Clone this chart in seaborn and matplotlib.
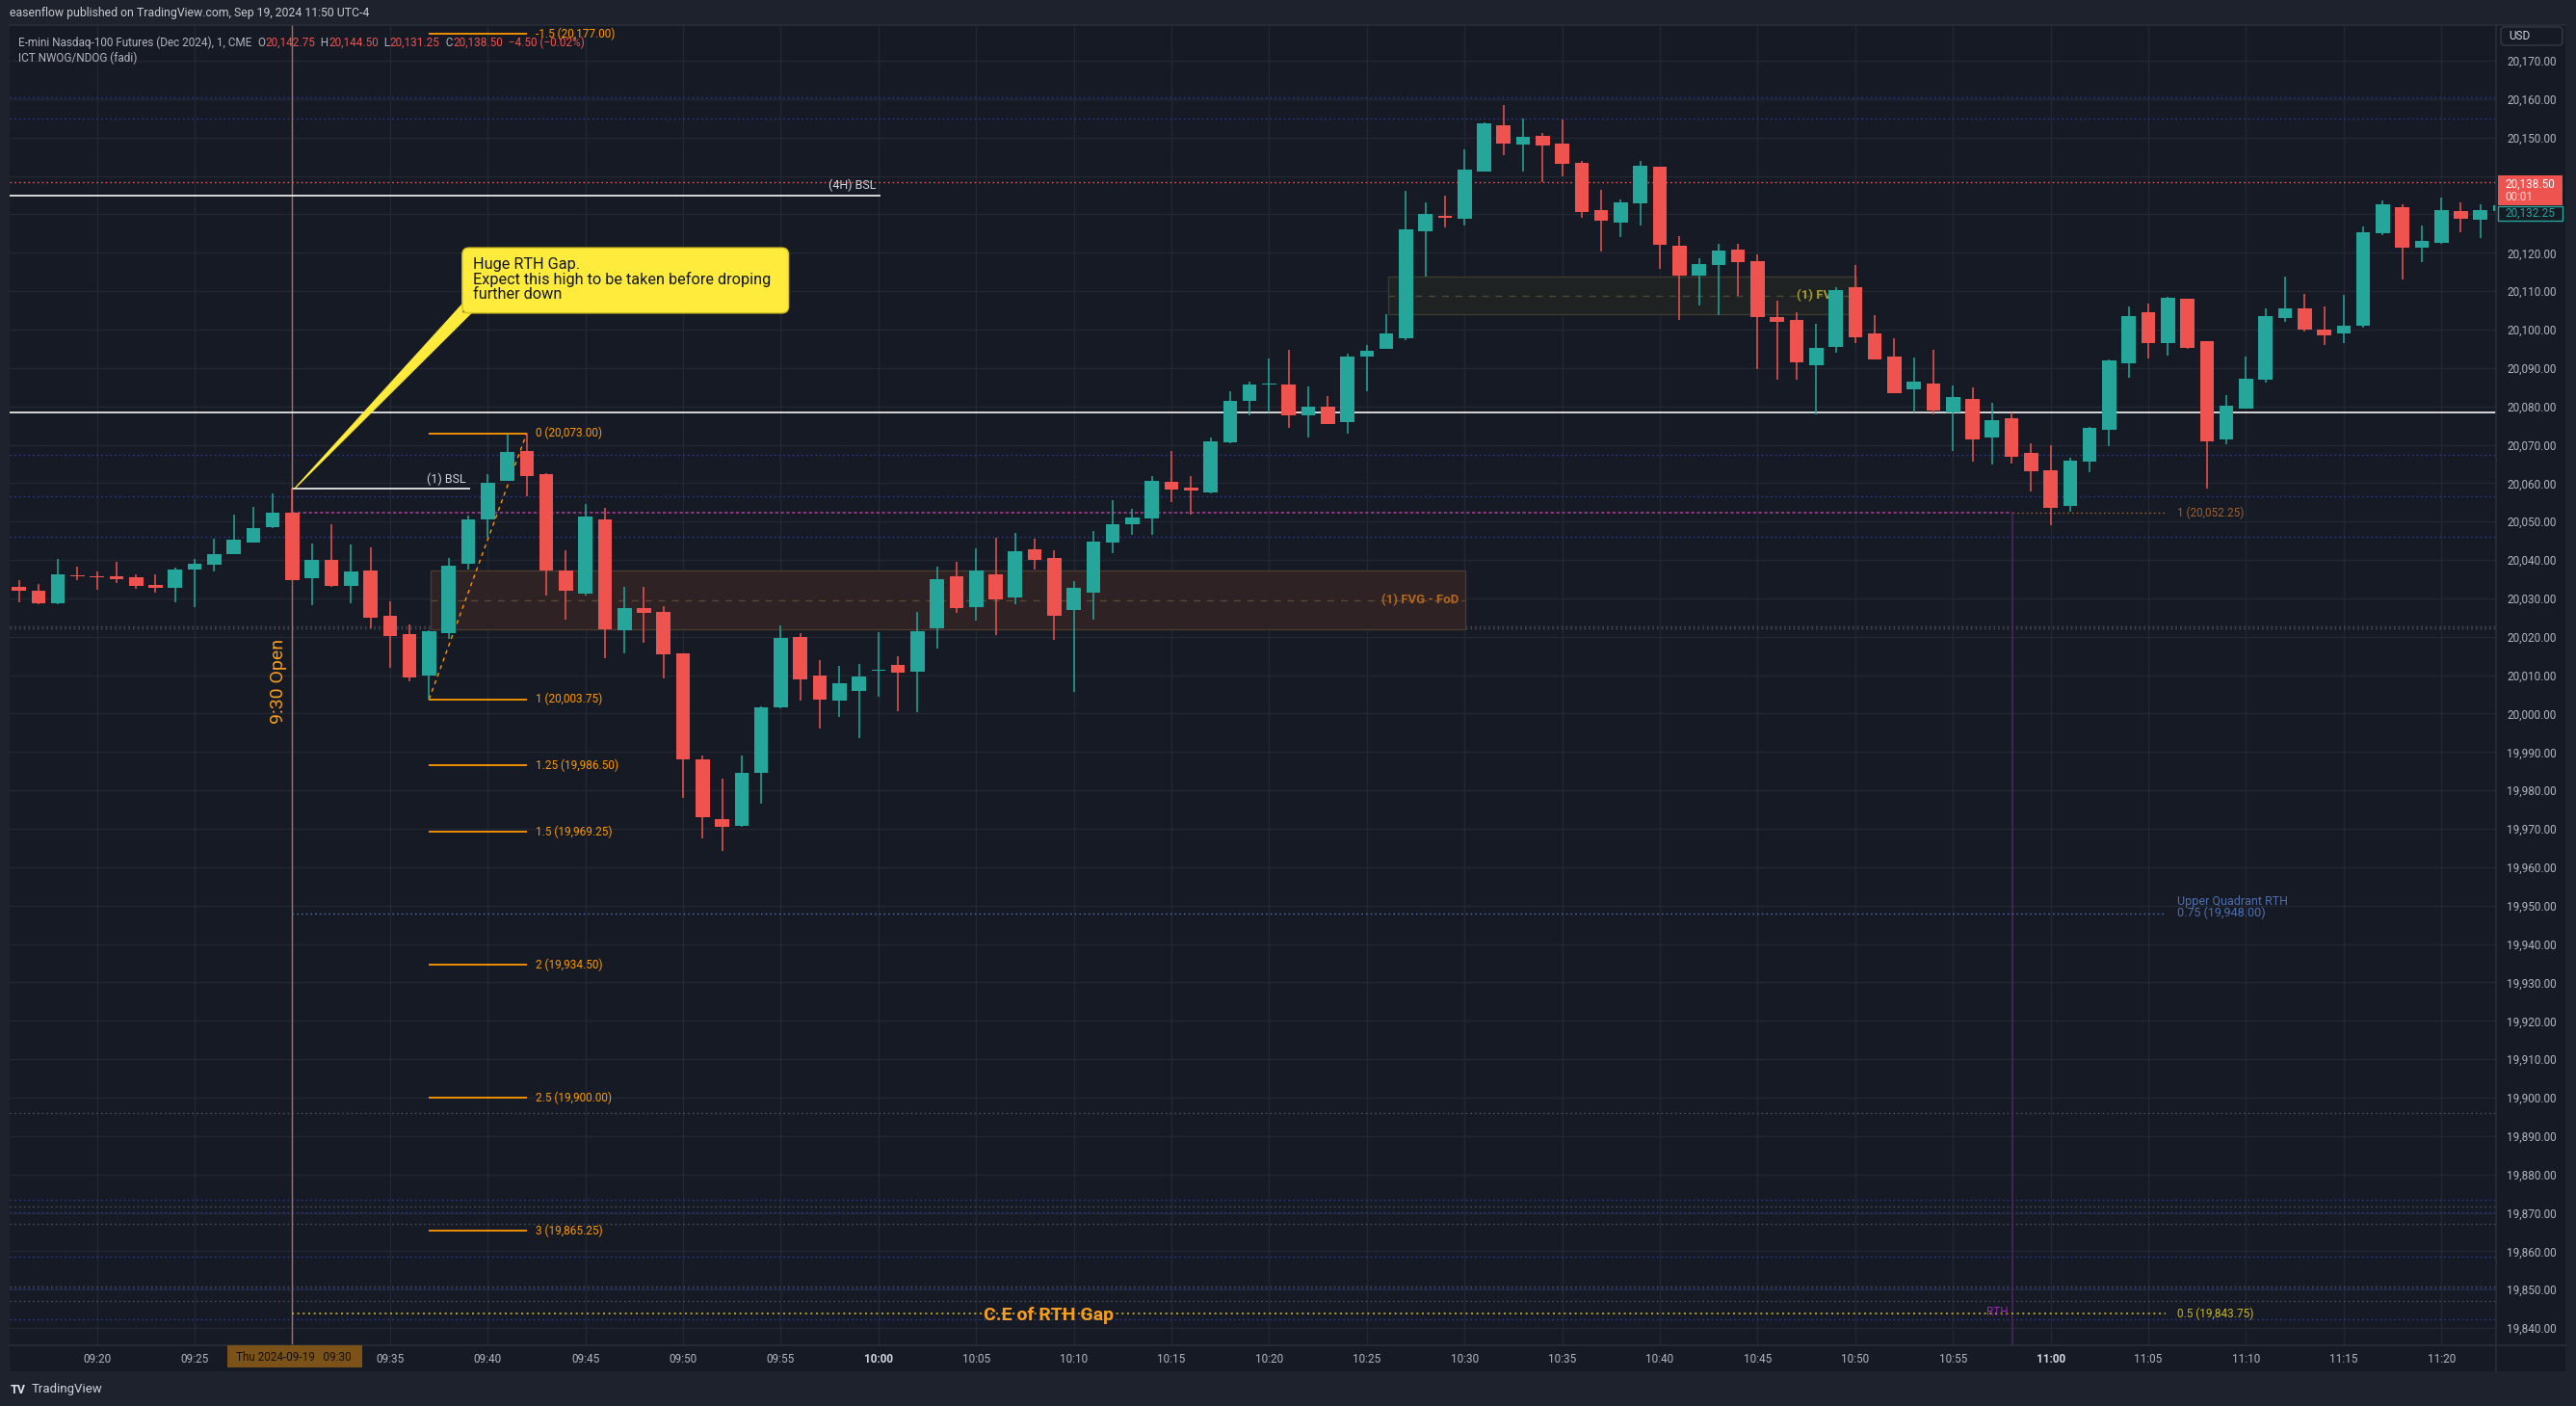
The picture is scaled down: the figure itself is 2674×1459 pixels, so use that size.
import numpy as np
import pandas as pd
import seaborn as sns
import matplotlib
matplotlib.use("Agg")
import matplotlib.pyplot as plt
from matplotlib.patches import Rectangle, FancyBboxPatch, Polygon
from matplotlib.lines import Line2D
from matplotlib.transforms import IdentityTransform

# ---------------- data ----------------
minutes = list(range(16, 144))  # minutes after 09:00, 1-minute bars 09:16 .. 11:23
opens = [20033.0, 20032.0, 20028.75, 20036.0, 20035.75, 20035.75, 20035.5, 20033.5, 20032.75, 20037.5,
         20038.75, 20041.5, 20044.5, 20048.5, 20052.25, 20035.25, 20040.0, 20033.25, 20037.25, 20025.5,
         20020.75, 20010.0, 20021.0, 20039.0, 20050.5, 20060.5, 20068.5, 20062.25, 20037.25, 20031.25,
         20050.5, 20021.75, 20027.5, 20026.5, 20015.75, 19988.0, 19972.5, 19970.75, 19984.5, 20001.75,
         20020.0, 20010.0, 20003.5, 20006.0, 20011.25, 20012.75, 20011.0, 20022.25, 20035.75, 20027.75,
         20036.25, 20030.25, 20042.75, 20040.5, 20027.0, 20031.5, 20044.5, 20049.25, 20050.75, 20060.25,
         20058.75, 20057.5, 20070.75, 20081.5, 20085.75, 20085.75, 20077.75, 20080.0, 20076.0, 20093.0,
         20095.0, 20097.75, 20125.5, 20129.5, 20128.75, 20141.25, 20153.25, 20148.25, 20150.5, 20148.5,
         20143.5, 20131.0, 20127.75, 20132.75, 20142.5, 20121.75, 20114.0, 20116.75, 20120.75, 20117.75,
         20103.25, 20102.5, 20090.75, 20095.5, 20111.0, 20099.0, 20093.0, 20084.5, 20086.0, 20078.5,
         20082.0, 20072.0, 20077.0, 20068.0, 20063.25, 20054.0, 20065.5, 20074.0, 20091.25, 20104.5,
         20096.5, 20108.0, 20097.0, 20071.5, 20079.5, 20087.0, 20103.0, 20105.5, 20100.0, 20099.0,
         20101.0, 20125.0, 20131.75, 20121.25, 20122.5, 20130.75, 20128.5, 20130.75]
highs = [20034.75, 20033.75, 20040.25, 20038.25, 20037.0, 20039.5, 20036.25, 20036.25, 20038.0, 20040.25,
         20045.5, 20051.75, 20053.75, 20057.25, 20058.5, 20044.25, 20049.25, 20044.0, 20043.25, 20029.25,
         20023.25, 20021.75, 20040.5, 20051.5, 20062.25, 20072.75, 20073.0, 20062.5, 20042.5, 20054.5,
         20053.5, 20033.0, 20033.0, 20028.0, 20015.75, 19989.0, 19983.0, 19989.0, 20002.0, 20023.0,
         20021.0, 20014.0, 20012.5, 20013.0, 20021.25, 20015.0, 20026.5, 20038.25, 20039.5, 20043.0,
         20045.75, 20047.0, 20045.5, 20042.5, 20034.5, 20047.5, 20055.5, 20053.25, 20061.75, 20068.5,
         20061.75, 20072.0, 20084.0, 20086.5, 20092.5, 20094.75, 20085.25, 20082.75, 20093.75, 20096.0,
         20104.0, 20136.25, 20133.0, 20135.0, 20147.0, 20154.0, 20158.5, 20155.0, 20151.25, 20154.75,
         20144.0, 20136.5, 20134.0, 20144.0, 20142.5, 20124.25, 20118.5, 20122.25, 20122.25, 20119.5,
         20107.5, 20104.5, 20101.5, 20111.0, 20116.75, 20103.75, 20097.75, 20092.75, 20094.75, 20085.5,
         20085.0, 20081.0, 20078.5, 20070.5, 20070.0, 20066.5, 20074.75, 20092.25, 20106.0, 20106.75,
         20108.5, 20108.0, 20097.0, 20083.0, 20093.0, 20105.5, 20113.75, 20109.25, 20106.0, 20109.0,
         20126.75, 20133.75, 20132.5, 20127.0, 20134.5, 20133.0, 20132.5, 20133.0]
lows = [20029.0, 20028.5, 20028.5, 20034.75, 20032.25, 20034.0, 20032.5, 20031.5, 20029.0, 20027.75,
        20037.0, 20041.5, 20044.5, 20048.25, 20034.75, 20028.25, 20033.0, 20028.75, 20022.25, 20012.0,
        20008.5, 20003.75, 20019.5, 20037.5, 20045.75, 20060.5, 20056.5, 20030.75, 20024.5, 20030.75,
        20014.5, 20015.75, 20018.5, 20009.25, 19978.0, 19967.5, 19964.25, 19970.5, 19976.5, 20001.5,
        20003.5, 19996.0, 19999.0, 19993.5, 20004.5, 20000.5, 20000.25, 20017.0, 20026.25, 20024.25,
        20020.5, 20028.5, 20037.5, 20019.25, 20005.75, 20024.5, 20041.75, 20046.5, 20046.5, 20055.0,
        20051.75, 20057.25, 20070.5, 20077.75, 20078.5, 20074.5, 20072.0, 20075.5, 20073.0, 20084.0,
        20095.0, 20097.25, 20113.75, 20126.5, 20127.0, 20141.25, 20145.5, 20141.25, 20138.5, 20140.0,
        20129.0, 20120.25, 20124.0, 20127.0, 20115.75, 20102.5, 20106.25, 20103.75, 20108.75, 20089.75,
        20087.0, 20087.0, 20078.0, 20094.0, 20096.5, 20092.25, 20083.5, 20078.5, 20078.0, 20068.5,
        20065.5, 20064.75, 20065.0, 20057.75, 20049.0, 20052.5, 20062.75, 20069.75, 20087.5, 20092.5,
        20093.25, 20095.0, 20058.5, 20070.25, 20079.5, 20086.25, 20102.0, 20099.5, 20096.0, 20096.5,
        20100.5, 20124.5, 20113.0, 20117.5, 20122.25, 20125.25, 20123.75, 20130.25]
closes = [20032.0, 20028.75, 20036.25, 20035.75, 20035.5, 20035.0, 20033.25, 20032.75, 20037.5, 20039.0,
          20041.5, 20045.25, 20048.25, 20052.25, 20034.75, 20040.0, 20033.25, 20037.0, 20025.0, 20020.25,
          20009.5, 20021.5, 20038.5, 20050.5, 20060.0, 20068.25, 20061.75, 20037.25, 20032.0, 20051.25,
          20022.0, 20027.5, 20026.25, 20015.5, 19988.0, 19973.0, 19970.5, 19984.5, 20001.75, 20019.75,
          20009.0, 20003.75, 20008.0, 20009.75, 20011.5, 20010.75, 20021.5, 20035.0, 20027.5, 20037.25,
          20029.75, 20042.25, 20040.0, 20025.5, 20032.75, 20044.75, 20049.25, 20051.0, 20060.5, 20058.25,
          20058.0, 20071.0, 20081.5, 20085.75, 20086.0, 20077.75, 20080.0, 20075.5, 20093.0, 20094.5,
          20099.0, 20126.0, 20130.0, 20129.25, 20141.75, 20153.75, 20148.5, 20150.25, 20148.0, 20143.25,
          20130.5, 20128.25, 20133.25, 20142.75, 20122.0, 20114.0, 20117.0, 20120.5, 20117.5, 20103.25,
          20102.0, 20091.5, 20095.25, 20110.25, 20098.0, 20092.25, 20083.5, 20086.5, 20079.0, 20082.5,
          20071.5, 20076.5, 20067.0, 20063.0, 20053.5, 20065.75, 20074.5, 20092.0, 20103.5, 20096.5,
          20108.25, 20095.25, 20071.0, 20080.25, 20087.25, 20103.5, 20105.5, 20100.0, 20098.5, 20101.0,
          20125.25, 20132.5, 20121.25, 20123.0, 20131.0, 20128.75, 20131.0, 20132.25]

fib_levels = [-1.5, 0, 1, 1.25, 1.5, 2, 2.5, 3]
fib_prices = [20177.00, 20073.00, 20003.75, 19986.50, 19969.25, 19934.50, 19900.00, 19865.25]
fib_start, fib_end = 37, 42          # 09:37 low -> 09:42 high
fib_low, fib_high = 20003.75, 20073.00

rth_open = 20052.25      # 1
rth_upper_q = 19948.00   # 0.75
rth_ce = 19843.75        # 0.5
white_level = 20078.5
bsl_4h = 20135.0
bsl_1 = 20058.5
last_price = 20138.5
ndog_blue = [20160.4, 20154.9, 20067.3, 20056.7, 20046.0, 19873.4, 19870.1, 19858.6, 19850.2, 19842.3]
ndog_gray = [20022.7, 20022.2, 19896.0, 19871.6, 19867.1, 19850.7, 19847.0]
fvg_low = dict(x0=37.1, x1=90.05, lo=20021.9, hi=20037.2)
fvg_up = dict(x0=86.07, x1=110.06, lo=20103.9, hi=20113.7)

y_ticks = list(range(19840, 20171, 10))
x_ticks = list(range(20, 141, 5))
x_tick_labels = [f"{9 + m // 60:02d}:{m % 60:02d}" for m in x_ticks]

# ---------------- style ----------------
OUTER = "#1e222d"
BG = "#161a25"
GRID = "#232733"
TXT = "#b2b5be"
UP = "#26a69a"
DN = "#ef5350"
ORANGE = "#ff9800"

sns.set_theme(style="darkgrid")
plt.rcParams["font.family"] = ["Roboto", "DejaVu Sans"]
plt.rcParams["axes.unicode_minus"] = True

W, H = 2674, 1459
fig = plt.figure(figsize=(W / 100, H / 100), dpi=100)
fig.patch.set_facecolor(OUTER)
IDT = IdentityTransform()

def P(x, y):
    """pixel (top-left origin) -> display coords"""
    return x, H - y

# chart panel background
fig.add_artist(Rectangle(P(10, 1423), 2653, 1397, transform=IDT, facecolor=BG,
                         edgecolor="none", zorder=-10))

ax = fig.add_axes([10 / W, 1 - 1396 / H, 2581 / W, 1370 / H])
ax.set_facecolor(BG)
x_lo, x_hi = 15.53, 142.8
y_lo, y_hi = 19835.5, 20179.3
ax.set_xlim(x_lo, x_hi)
ax.set_ylim(y_lo, y_hi)
for s in ax.spines.values():
    s.set_visible(False)
ax.grid(True, color=GRID, lw=1)
ax.set_xticks(x_ticks)
# 09:30 tick label sits under the crosshair date box
ax.set_xticklabels(["" if lab == "09:30" else lab for lab in x_tick_labels])
ax.set_yticks(y_ticks)
# 20,140 tick label sits under the last-price marker
ax.set_yticklabels(["" if v == 20140 else f"{v:,.2f}" for v in y_ticks])
ax.yaxis.tick_right()
ax.tick_params(axis="y", length=0, pad=8, labelsize=8.5, labelcolor=TXT)
ax.tick_params(axis="x", length=0, pad=6, labelsize=8.5, labelcolor=TXT)
for lab in ax.get_xticklabels():
    if lab.get_text() in ("10:00", "11:00"):
        lab.set_fontweight("bold")
        lab.set_color("#d1d4dc")

# ---------------- level lines ----------------
dot = (0, (1.2, 2.2))
for v in ndog_blue:
    ax.axhline(v, color="#2b3a92", lw=1, ls=dot, zorder=1)
for v in ndog_gray:
    ax.axhline(v, color="#4a4e59", lw=1, ls=dot, zorder=1)
ax.axhline(last_price, color=DN, lw=1, ls=dot, zorder=2)

# FVG boxes
ax.add_patch(Rectangle((fvg_low["x0"], fvg_low["lo"]), fvg_low["x1"] - fvg_low["x0"],
                       fvg_low["hi"] - fvg_low["lo"], facecolor="#2f2225", edgecolor="#4a3b2c",
                       lw=1, zorder=1.5))
ax.hlines((fvg_low["lo"] + fvg_low["hi"]) / 2, fvg_low["x0"], fvg_low["x1"], color="#5b4a32",
          lw=1, ls=(0, (5, 5)), zorder=1.6)
ax.add_patch(Rectangle((fvg_up["x0"], fvg_up["lo"]), fvg_up["x1"] - fvg_up["x0"],
                       fvg_up["hi"] - fvg_up["lo"], facecolor="#1e2222", edgecolor="#3a3b2c",
                       lw=1, zorder=1.5))
ax.hlines((fvg_up["lo"] + fvg_up["hi"]) / 2, fvg_up["x0"], fvg_up["x1"], color="#4a4a30",
          lw=1, ls=(0, (5, 5)), zorder=1.6)
ax.text(fvg_low["x1"] - 0.35, (fvg_low["lo"] + fvg_low["hi"]) / 2, "(1) FVG - FoD", color="#b4661e",
        fontsize=9.5, fontweight="bold", ha="right", va="center", zorder=2)
ax.text(107.0, (fvg_up["lo"] + fvg_up["hi"]) / 2, "(1) FVG", color="#a89c2c",
        fontsize=9.5, fontweight="bold", ha="left", va="center", zorder=2)

# white lines
ax.axhline(white_level, color="#e6e6e6", lw=1.3, zorder=3)
ax.hlines(bsl_4h, x_lo, 60.1, color="#e6e6e6", lw=1.3, zorder=3)
ax.text(59.9, bsl_4h + 0.8, "(4H) BSL", color="#d1d4dc", fontsize=9, ha="right", va="bottom")
ax.hlines(bsl_1, 30, 39.1, color="#e6e6e6", lw=1.3, zorder=3)
ax.text(38.9, bsl_1 + 0.8, "(1) BSL", color="#d1d4dc", fontsize=9, ha="right", va="bottom")

# 9:30 open vertical
ax.axvline(30, color="#b5694f", lw=1, zorder=2)
ax.text(29.3, 20008.5, "9:30 Open", rotation=90, color="#f59d1e", fontsize=14,
        ha="center", va="center", zorder=4)

# RTH gap levels
rth_x = 118.07
ax.hlines(rth_open, 30, rth_x, color="#9c3d8e", lw=1.2, ls=(0, (2, 1.5)), zorder=2)
ax.hlines(rth_open, rth_x, 125.9, color="#a0612b", lw=1, ls=dot, zorder=2)
ax.vlines(rth_x, y_lo - 5, rth_open, color="#4e2660", lw=1.1, zorder=2)
ax.hlines(rth_ce, 30, 125.9, color="#c9b72b", lw=1.2, ls=dot, zorder=2)
ax.hlines(rth_upper_q, 30, 125.9, color="#4d6ba3", lw=1, ls=dot, zorder=2)
ax.text(126.5, rth_open, f"1 ({rth_open:,.2f})", color="#a0612b", fontsize=8.5, va="center")
ax.text(126.5, rth_ce, f"0.5 ({rth_ce:,.2f})", color="#c9b72b", fontsize=8.5, va="center")
ax.text(126.5, rth_upper_q + 3.0, "Upper Quadrant RTH", color="#4d6fae", fontsize=9, va="center")
ax.text(126.5, rth_upper_q, f"0.75 ({rth_upper_q:,.2f})", color="#4d6fae", fontsize=9, va="center")
ax.text(117.85, rth_ce + 0.3, "RTH", color="#9c27b0", fontsize=8.5, ha="right", va="center")
ax.text(68.7, rth_ce - 0.4, "C.E of RTH Gap", color="#f59d1e", fontsize=14, fontweight="bold",
        ha="center", va="center", zorder=4)

# fib extension
for lvl, pr in zip(fib_levels, fib_prices):
    ax.hlines(pr, fib_start, fib_end, color=ORANGE, lw=1.3, zorder=3)
    ax.text(fib_end + 0.45, pr, f"{lvl:g} ({pr:,.2f})", color=ORANGE, fontsize=8.5,
            ha="left", va="center", zorder=3)
ax.plot([fib_start, fib_end], [fib_low, fib_high], color=ORANGE, lw=1, ls=(0, (3, 3)), zorder=3)

# ---------------- candles ----------------
df = pd.DataFrame({"t": minutes, "o": opens, "h": highs, "l": lows, "c": closes})
up = df["c"] >= df["o"]
colors = np.where(up, UP, DN)
diff = (df["c"] - df["o"]).abs()
body_h = np.maximum(diff, 0.3)
body_lo = np.minimum(df["o"], df["c"]) - (body_h - diff) / 2
ax.vlines(df["t"], df["l"], df["h"], colors=colors, lw=1.1, zorder=5)
ax.bar(df["t"], body_h, bottom=body_lo, width=0.72, color=colors, linewidth=0, zorder=6)

# ---------------- callout ----------------
box_x0, box_x1, box_y0, box_y1 = 38.7, 55.4, 20104.3, 20121.3
tip = (30.1, bsl_1)
ax.add_patch(Polygon([tip, (box_x0, 20106.6), (box_x0, box_y0), (39.15, box_y0)],
                     closed=True, facecolor="#ffeb3b", edgecolor="#ffeb3b", lw=0.8, zorder=7))
(dx0, dy0) = ax.transData.transform((box_x0, box_y0))
(dx1, dy1) = ax.transData.transform((box_x1, box_y1))
fig.add_artist(FancyBboxPatch((dx0, dy0), dx1 - dx0, dy1 - dy0, boxstyle="round,pad=0,rounding_size=7",
                              transform=IDT, facecolor="#ffeb3b", edgecolor="#d8c21f", lw=1, zorder=2))
fig.text(*ax.transData.transform((39.25, 20113.1)),
         "Huge RTH Gap.\nExpect this high to be taken before droping\nfurther down",
         transform=IDT, color="#131722", fontsize=11.7, ha="left", va="center",
         linespacing=0.98, zorder=3)

# ---------------- frame, header, axis decorations ----------------
for (x0, y0, x1, y1) in [(10, 1396, 2663, 1396), (2591, 26, 2591, 1423), (10, 26, 2663, 26)]:
    fig.add_artist(Line2D([x0, x1], [H - y0, H - y1], transform=IDT, color="#2a2e39", lw=1.2, zorder=1))

fig.text(*P(10, 14), "easenflow published on TradingView.com, Sep 19, 2024 11:50 UTC-4",
         transform=IDT, color="#c7cad1", fontsize=8.8, va="center", ha="left")

renderer = fig.canvas.get_renderer()
pieces = [("E-mini Nasdaq-100 Futures (Dec 2024), 1, CME  ", TXT), ("O", TXT), ("20,142.75", DN),
          ("  H", TXT), ("20,144.50", DN), ("  L", TXT), ("20,131.25", DN), ("  C", TXT),
          ("20,138.50", DN), ("  \u22124.50 (\u22120.02%)", DN)]
cx = 19
for s, col in pieces:
    t = fig.text(*P(cx, 44), s, transform=IDT, color=col, fontsize=8.5, va="center", ha="left", zorder=5)
    bb = t.get_window_extent(renderer=renderer)
    cx = bb.x1
fig.text(*P(19, 60), "ICT NWOG/NDOG (fadi)", transform=IDT, color=TXT, fontsize=8.5,
         va="center", ha="left", zorder=5)

# USD box
fig.add_artist(FancyBboxPatch(P(2596, 47), 64, 19, boxstyle="round,pad=0,rounding_size=4", transform=IDT,
                              facecolor=BG, edgecolor="#363a45", lw=1, zorder=3))
fig.text(*P(2604, 37.5), "USD", transform=IDT, color="#d1d4dc", fontsize=8.5, va="center", zorder=4)

# last price labels
fig.add_artist(Rectangle(P(2593, 213), 67, 31, transform=IDT, facecolor=DN, edgecolor="none", zorder=3))
fig.text(*P(2600, 191), f"{last_price:,.2f}", transform=IDT, color="white", fontsize=8.5, va="center", zorder=4)
fig.text(*P(2600, 205), "00:01", transform=IDT, color="#f8d8d8", fontsize=8.5, va="center", zorder=4)
fig.add_artist(Rectangle(P(2593, 229), 67, 15, transform=IDT, facecolor=BG, edgecolor=UP, lw=1, zorder=3))
fig.text(*P(2600, 221.5), f"{closes[-1]:,.2f}", transform=IDT, color=UP, fontsize=8.5, va="center", zorder=4)

# crosshair date label
fig.add_artist(Rectangle(P(235.5, 1419), 140, 23, transform=IDT, facecolor="#7b5218",
                         edgecolor="none", zorder=3))
fig.text(*P(305, 1408), "Thu 2024-09-19   09:30", transform=IDT, color="#111111", fontsize=8.5,
         ha="center", va="center", zorder=4)

# bottom bar
fig.text(*P(11, 1442), "TV", transform=IDT, color="#e0e3eb", fontsize=9, fontweight="bold",
         va="center", zorder=4)
fig.text(*P(33, 1442), "TradingView", transform=IDT, color="#d1d4dc", fontsize=9.5,
         va="center", zorder=4)

fig.savefig("out.png", dpi=100, facecolor=OUTER)
